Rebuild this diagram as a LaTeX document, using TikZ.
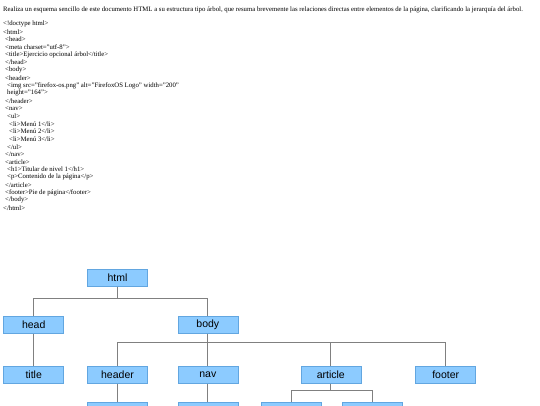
\documentclass[tikz,border=0pt]{standalone}
\usepackage{fontspec}
\setmainfont{Liberation Serif}
\setsansfont{Liberation Sans}
\definecolor{boxfill}{HTML}{8CCBFF}
\definecolor{boxline}{HTML}{62A6E0}
\definecolor{edgegray}{HTML}{808080}
\begin{document}
\begin{tikzpicture}[
x=1pt, y=-1pt,
codeline/.style={anchor=west, inner sep=0pt, font=\fontsize{6.75}{7.5}\selectfont},
treebox/.style={rectangle, draw=boxline, fill=boxfill, line width=0.6pt, minimum width=60pt, minimum height=17pt, inner sep=0pt, font=\fontsize{10.5}{12}\sffamily},
edge/.style={draw=edgegray, line width=0.8pt},
]
\clip (0,0) rectangle (540,405);
\fill[white] (0,0) rectangle (540,405);

%Statement
\node[codeline] (intro) at (3,10) {Realiza un esquema sencillo de este documento HTML a su estructura tipo árbol, que resuma brevemente las relaciones directas entre elementos de la página, clarificando la jerarquía del árbol.};

%Code
\node[codeline] (code1)  at (3,24.3)   {<!doctype html>};
\node[codeline] (code2)  at (3,31.9)   {<html>};
\node[codeline] (code3)  at (5,39.6)   {<head>};
\node[codeline] (code4)  at (5,47.2)   {<meta charset="utf-8">};
\node[codeline] (code5)  at (5,54.9)   {<title>Ejercicio opcional árbol</title>};
\node[codeline] (code6)  at (5,62.5)   {</head>};
\node[codeline] (code7)  at (5,70.2)   {<body>};
\node[codeline] (code8)  at (5,77.8)   {<header>};
\node[codeline] (code9)  at (7,85.5)   {<img src="firefox-os.png" alt="FirefoxOS Logo" width="200"};
\node[codeline] (code10) at (7,93.1)   {height="164">};
\node[codeline] (code11) at (5,100.8)  {</header>};
\node[codeline] (code12) at (5,108.4)  {<nav>};
\node[codeline] (code13) at (7,116.1)  {<ul>};
\node[codeline] (code14) at (9,123.7)  {<li>Menú 1</li>};
\node[codeline] (code15) at (9,131.4)  {<li>Menú 2</li>};
\node[codeline] (code16) at (9,139.0)  {<li>Menú 3</li>};
\node[codeline] (code17) at (7,146.7)  {</ul>};
\node[codeline] (code18) at (5,154.3)  {</nav>};
\node[codeline] (code19) at (5,162.0)  {<article>};
\node[codeline] (code20) at (7,169.6)  {<h1>Titular de nivel 1</h1>};
\node[codeline] (code21) at (7,177.3)  {<p>Contenido de la página</p>};
\node[codeline] (code22) at (5,184.9)  {</article>};
\node[codeline] (code23) at (5,192.6)  {<footer>Pie de página</footer>};
\node[codeline] (code24) at (5,200.2)  {</body>};
\node[codeline] (code25) at (3,207.9)  {</html>};

%Tree
\node[treebox] (html)    at (117.5,277.7) {html};
\node[treebox] (head)    at (33.7,325)    {head};
\node[treebox] (body)    at (207.8,325)   {body};
\node[treebox] (title)   at (33.7,374.7)  {title};
\node[treebox] (header)  at (117.5,374.7) {header};
\node[treebox] (nav)     at (207.8,374.7) {nav};
\node[treebox] (article) at (330.8,374.7) {article};
\node[treebox] (footer)  at (445.7,374.7) {footer};
\node[treebox] (img)     at (117.5,410.8) {};
\node[treebox] (ul)      at (207.8,410.8) {};
\node[treebox] (hone)    at (291.7,410.8) {};
\node[treebox] (para)    at (372.3,410.8) {};

%Lines
\draw[edge] (html.south) -- ++(0,12) -| (head.north);
\draw[edge] (html.south) -- ++(0,12) -| (body.north);
\draw[edge] (head.south) -- (title.north);
\draw[edge] (body.south) -- ++(0,9) -| (header.north);
\draw[edge] (body.south) -- (nav.north);
\draw[edge] (body.south) -- ++(0,9) -| (article.north);
\draw[edge] (body.south) -- ++(0,9) -| (footer.north);
\draw[edge] (header.south) -- (img.north);
\draw[edge] (nav.south) -- (ul.north);
\draw[edge] (article.south) -- ++(0,7) -| (hone.north);
\draw[edge] (article.south) -- ++(0,7) -| (para.north);
\end{tikzpicture}
\end{document}
